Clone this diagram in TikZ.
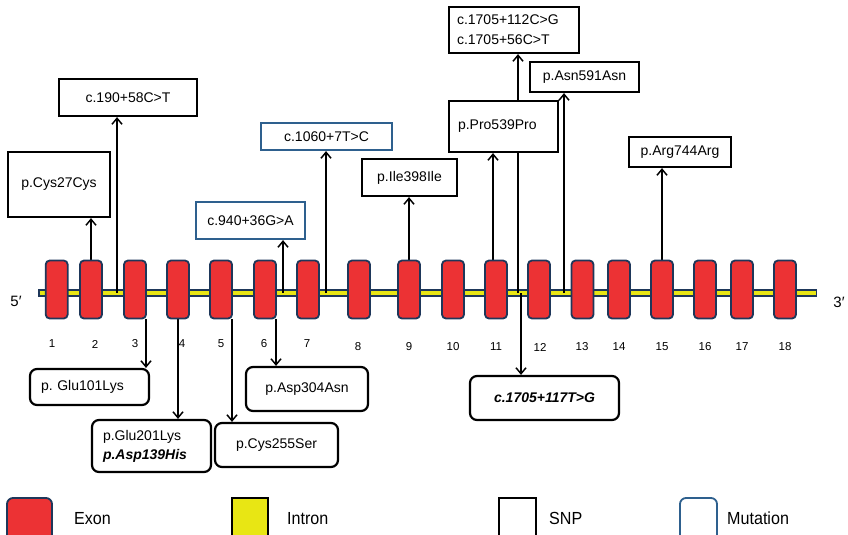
\documentclass[tikz,border=0pt]{standalone}
\usepackage{fontspec}
\setmainfont{Liberation Sans}
\newfontfamily\legfont{Liberation Sans}[FakeStretch=0.92]
\usetikzlibrary{arrows.meta}
\definecolor{exonred}{RGB}{236,50,52}
\definecolor{navy}{RGB}{30,55,90}
\definecolor{intyel}{RGB}{232,230,20}
\definecolor{mutblue}{RGB}{46,96,142}
\pgfdeclarelayer{bg}
\pgfsetlayers{bg,main}
\begin{document}
\begin{tikzpicture}[x=1pt,y=-1pt,
  exon/.style={draw=navy, line width=1.8pt, fill=exonred, rounded corners=4pt, minimum width=22pt, minimum height=58pt, inner sep=0pt},
  snp/.style={draw=black, line width=2.2pt, fill=white, inner sep=0pt, font=\fontsize{14}{20}\selectfont, align=center},
  mut/.style={snp, draw=mutblue},
  res/.style={snp, rounded corners=7pt},
  arr/.style={line width=1.5pt, -{Straight Barb[length=6pt,width=10pt]}},
  num/.style={font=\fontsize{11.5}{13}\selectfont, inner sep=0pt},
  prime/.style={font=\fontsize{15}{17}\selectfont, inner sep=0pt},
  leg/.style={font=\legfont\fontsize{17.5}{20}\selectfont, anchor=west, inner sep=0pt}]
\useasboundingbox (0,0) rectangle (848,535);
\clip (0,0) rectangle (848,535);

% gene backbone
\coordinate (g5) at (38,293);
\coordinate (g3) at (817,293);
\begin{pgfonlayer}{bg}
\draw[navy, line width=8.5pt] (g5) -- (g3);
\draw[intyel, line width=4.5pt] ([xshift=1.5pt]g5) -- ([xshift=-1.5pt]g3);
\end{pgfonlayer}

% exons
\foreach \i/\x in {1/56.7,2/91,3/135,4/178,5/221,6/265,7/308,8/359,9/409,10/453,11/496,12/539,13/582.5,14/619,15/662,16/705,17/742,18/785}
  \node[exon] (e\i) at (\x,289.5) {};

% exon numbers
\foreach \i/\x/\y in {1/52/344,2/95/344,3/135/344,4/182/344,5/221/344,6/264/344,7/307/344,8/358/347,9/409/347,10/453/347,11/496/347,12/540/347,13/582/347,14/619/347,15/662/347,16/705/347,17/742/347,18/785/347}
  \node[num] (n\i) at (\x,\y) {\i};

\node[prime] (p5) at (16,301) {5′};
\node[prime] (p3) at (839,302) {3′};

% top boxes
\node[snp, minimum width=102pt, minimum height=65pt] (cys27) at (59,184.5) {p.Cys27Cys};
\node[snp, minimum width=138pt, minimum height=37pt] (c190) at (128,97.5) {c.190+58C>T};
\node[mut, minimum width=109pt, minimum height=37pt] (c940) at (250.5,220.5) {c.940+36G>A};
\node[mut, minimum width=131pt, minimum height=27pt] (c1060) at (326.5,136.5) {c.1060+7T>C};
\node[snp, minimum width=95pt, minimum height=37pt] (ile398) at (409.5,177.5) {p.Ile398Ile};
\node[snp, align=left, inner xsep=8pt, text width=114pt, minimum height=46pt] (c1705a) at (514,30) {c.1705+112C>G\\c.1705+56C>T};
\node[snp, align=left, inner xsep=9pt, text width=91pt, minimum height=51pt] (pro539) at (503.5,126.5) {p.Pro539Pro};
\node[snp, minimum width=109pt, minimum height=30pt] (asn591) at (584.5,77) {p.Asn591Asn};
\node[snp, minimum width=102pt, minimum height=30pt] (arg744) at (680,152) {p.Arg744Arg};

% bottom boxes
\node[res, align=left, inner xsep=11pt, text width=97pt, minimum height=36pt] (glu101) at (89.5,387) {p.\ Glu101Lys};
\node[res, align=left, inner xsep=11pt, text width=97pt, minimum height=52pt, font=\fontsize{14}{19}\selectfont] (glu201) at (151.5,446) {p.Glu201Lys\\\textbf{\textit{p.Asp139His}}};
\node[res, minimum width=123pt, minimum height=44pt] (cys255) at (276.5,445) {p.Cys255Ser};
\node[res, minimum width=122pt, minimum height=44pt] (asp304) at (307,389) {p.Asp304Asn};
\node[res, minimum width=149pt, minimum height=44pt, font=\fontsize{14}{17}\selectfont\bfseries\itshape] (c117) at (544.5,398) {c.1705+117T>G};

% connector start points
\coordinate (i23) at (117,293);
\coordinate (i67) at (283,293);
\coordinate (i78) at (326,293);
\coordinate (i1112a) at (518,293);
\coordinate (i1112b) at (521,293);
\coordinate (i1213) at (564,293);
\coordinate (t11) at (493,260);
\coordinate (b3) at (146,319);
\coordinate (b5) at (232,319);
\coordinate (b6) at (276,319);

\begin{pgfonlayer}{bg}
\draw[arr] (e2.north) -- (e2.north |- cys27.south);
\draw[arr] (i23) -- (i23 |- c190.south);
\draw[arr] (i67) -- (i67 |- c940.south);
\draw[arr] (i78) -- (i78 |- c1060.south);
\draw[arr] (e9.north) -- (e9.north |- ile398.south);
\draw[arr] (t11) -- (t11 |- pro539.south);
\draw[arr] (i1112a) -- (i1112a |- c1705a.south);
\draw[arr] (i1213) -- (i1213 |- asn591.south);
\draw[arr] (e15.north) -- (e15.north |- arg744.south);
\draw[arr] (b3) -- (b3 |- glu101.north);
\draw[arr] (e4.south) -- (e4.south |- glu201.north);
\draw[arr] (b5) -- (b5 |- cys255.north);
\draw[arr] (b6) -- (b6 |- asp304.north);
\draw[arr] (i1112b) -- (i1112b |- c117.north);
\end{pgfonlayer}

% legend
\node[exon, minimum width=45pt, minimum height=47pt, rounded corners=6pt] (legexon) at (29.5,521.5) {};
\node[leg] (legexontxt) at (74,518.5) {Exon};
\node[draw=black, line width=1.8pt, fill=intyel, minimum width=36pt, minimum height=47pt, inner sep=0pt] (legintron) at (250,521.5) {};
\node[leg] (legintrontxt) at (287,518.5) {Intron};
\node[draw=black, line width=1.8pt, fill=white, minimum width=37pt, minimum height=47pt, inner sep=0pt] (legsnp) at (517.5,521.5) {};
\node[leg] (legsnptxt) at (549,518.5) {SNP};
\node[draw=mutblue, line width=1.8pt, fill=white, rounded corners=6pt, minimum width=37pt, minimum height=47pt, inner sep=0pt] (legmut) at (698.5,521.5) {};
\node[leg] (legmuttxt) at (727,518.5) {Mutation};
\end{tikzpicture}
\end{document}
